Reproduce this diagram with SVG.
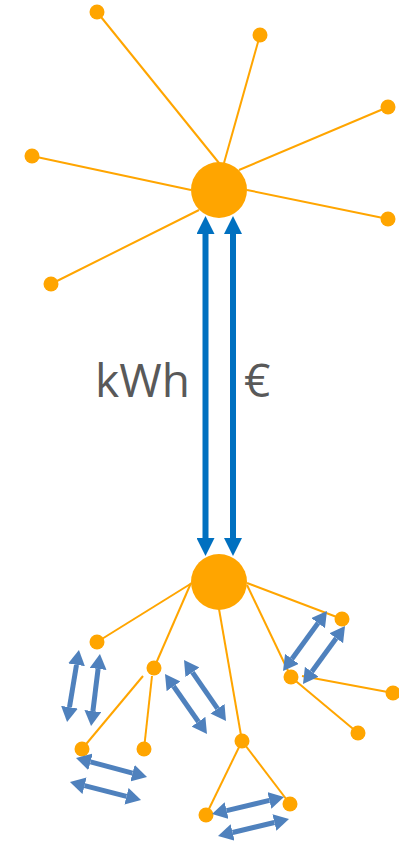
<svg xmlns="http://www.w3.org/2000/svg" width="399" height="843" viewBox="0 0 399 843">
<style>
.e{stroke:#FFA500;stroke-width:2;fill:none}
.n{fill:#FFA500}
.big{stroke:#0070C0;stroke-width:6;fill:none;marker-start:url(#hb);marker-end:url(#hb)}
.sm{stroke:#4F81BD;stroke-width:5;fill:none;marker-start:url(#hs);marker-end:url(#hs)}
.t{font-family:"Open Sans","DejaVu Sans",sans-serif;font-size:46px;fill:#595959}
</style>
<defs>
<marker id="hb" viewBox="0 -9 18 18" markerWidth="18" markerHeight="18" refX="0" refY="0" markerUnits="userSpaceOnUse" orient="auto-start-reverse"><path d="M0,-9 L18,0 L0,9 z" fill="#0070C0"/></marker>
<marker id="hs" viewBox="0 -8.5 15 17" markerWidth="15" markerHeight="17" refX="0" refY="0" markerUnits="userSpaceOnUse" orient="auto-start-reverse"><path d="M0,-8.5 L15,0 L0,8.5 z" fill="#4F81BD"/></marker>
</defs>
<g id="edges">
<line class="e" x1="219" y1="163" x2="97" y2="12"/>
<line class="e" x1="224" y1="163" x2="260" y2="35"/>
<line class="e" x1="239" y1="170" x2="388" y2="107"/>
<line class="e" x1="191" y1="190" x2="32" y2="156"/>
<line class="e" x1="247" y1="190" x2="388" y2="219"/>
<line class="e" x1="199" y1="210" x2="51" y2="284"/>
<line class="e" x1="192" y1="583" x2="97" y2="642"/>
<line class="e" x1="191" y1="583" x2="154" y2="668"/>
<line class="e" x1="219" y1="609" x2="242" y2="741"/>
<line class="e" x1="247" y1="583" x2="342" y2="619"/>
<line class="e" x1="247" y1="585" x2="291" y2="677"/>
<line class="e" x1="143" y1="676" x2="82" y2="749"/>
<line class="e" x1="152" y1="676" x2="144" y2="749"/>
<line class="e" x1="242" y1="741" x2="206" y2="815"/>
<line class="e" x1="242" y1="741" x2="290" y2="804"/>
<line class="e" x1="302" y1="676" x2="393" y2="693"/>
<line class="e" x1="291" y1="677" x2="358" y2="733"/>
</g>
<g id="nodes">
<g id="hubTop"><circle class="n" cx="219" cy="190" r="28"/></g>
<g id="t1"><circle class="n" cx="97" cy="12" r="7.5"/></g>
<g id="t2"><circle class="n" cx="260" cy="35" r="7.5"/></g>
<g id="t3"><circle class="n" cx="388" cy="107" r="7.5"/></g>
<g id="t4"><circle class="n" cx="32" cy="156" r="7.5"/></g>
<g id="t5"><circle class="n" cx="388" cy="219" r="7.5"/></g>
<g id="t6"><circle class="n" cx="51" cy="284" r="7.5"/></g>
<g id="hubBottom"><circle class="n" cx="219" cy="582" r="28"/></g>
<g id="b1"><circle class="n" cx="97" cy="642" r="7.5"/></g>
<g id="b2"><circle class="n" cx="154" cy="668" r="7.5"/></g>
<g id="b3"><circle class="n" cx="342" cy="619" r="7.5"/></g>
<g id="b4"><circle class="n" cx="291" cy="677" r="7.5"/></g>
<g id="b5"><circle class="n" cx="393" cy="693" r="7.5"/></g>
<g id="b6"><circle class="n" cx="358" cy="733" r="7.5"/></g>
<g id="b7"><circle class="n" cx="82" cy="749" r="7.5"/></g>
<g id="b8"><circle class="n" cx="144" cy="749" r="7.5"/></g>
<g id="b9"><circle class="n" cx="242" cy="741" r="7.5"/></g>
<g id="b10"><circle class="n" cx="206" cy="815" r="7.5"/></g>
<g id="b11"><circle class="n" cx="290" cy="804" r="7.5"/></g>
</g>
<g id="flows">
<line class="big" x1="205.5" y1="234" x2="205.5" y2="538"/>
<line class="big" x1="233" y1="234" x2="233" y2="538"/>
<line class="sm" x1="76.5" y1="664.8" x2="69.5" y2="707.2"/>
<line class="sm" x1="98.1" y1="668.9" x2="92.9" y2="711.1"/>
<line class="sm" x1="173.6" y1="686.3" x2="198.4" y2="721.7"/>
<line class="sm" x1="192.5" y1="672.3" x2="217.5" y2="708.7"/>
<line class="sm" x1="318.1" y1="623.1" x2="291.9" y2="658.9"/>
<line class="sm" x1="336.2" y1="638.2" x2="311.8" y2="671.8"/>
<line class="sm" x1="90.5" y1="761.9" x2="132.5" y2="773.1"/>
<line class="sm" x1="84.5" y1="785.7" x2="126.5" y2="796.3"/>
<line class="sm" x1="226.6" y1="810.6" x2="269.4" y2="800.4"/>
<line class="sm" x1="232.6" y1="832.5" x2="274.4" y2="822.5"/>
</g>
<g id="labels">
<text class="t" x="95" y="397">kWh</text>
<text class="t" x="244" y="397">€</text>
</g>
</svg>
